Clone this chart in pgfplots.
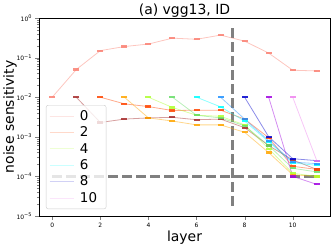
\documentclass[border=0pt]{standalone}
\usepackage{pgfplots}
\pgfplotsset{compat=1.18}
\usepackage{fontspec}
\setmainfont{DejaVu Sans}
\definecolor{c0}{HTML}{FA8072}
\definecolor{c1}{HTML}{A52A2A}
\definecolor{c2}{HTML}{FF4500}
\definecolor{c3}{HTML}{FFA500}
\definecolor{c4}{HTML}{ADFF2F}
\definecolor{c5}{HTML}{66DD66}
\definecolor{c6}{HTML}{00FFFF}
\definecolor{c7}{HTML}{1E90FF}
\definecolor{c8}{HTML}{0000CD}
\definecolor{c9}{HTML}{A000E0}
\definecolor{c10}{HTML}{EE82EE}
\begin{document}
\begin{tikzpicture}
\begin{axis}[
  at={(0,0)}, anchor=south west,
  scale only axis, width=291bp, height=198bp,
  ymode=log, xmin=-0.55, xmax=11.55, ymin=1e-5, ymax=1,
  xtick={0,2,4,6,8,10},
  ytick={1e-5,1e-4,1e-3,1e-2,1e-1,1},
  yticklabels={10\textsuperscript{−5},10\textsuperscript{−4},10\textsuperscript{−3},10\textsuperscript{−2},10\textsuperscript{−1},10\textsuperscript{0}},
  /pgf/number format/assume math mode=true,
  tick label style={font=\fontsize{6}{7}\selectfont},
  tick align=outside, tick pos=left,
  major tick length=3.5bp, minor tick length=2bp,
  axis line style={line width=0.8bp},
  title={(a) vgg13, ID},
  title style={font=\fontsize{14}{16}\selectfont, at={(0.5,1)}, anchor=base, yshift=-2bp},
  xlabel={layer}, ylabel={noise sensitivity},
  label style={font=\fontsize{14}{16}\selectfont},
  xlabel style={at={(axis description cs:0.5,0)}, anchor=base, yshift=-25bp},
  ylabel style={at={([xshift=-25bp]axis description cs:0,0.5)}, anchor=base},
  legend style={at={(0.024,0.035)}, anchor=south west, draw=gray!40, rounded corners=2bp,
    fill=white, fill opacity=0.8, text opacity=1, font=\fontsize{13.5}{15}\selectfont,
    inner sep=3bp, row sep=1bp, nodes={inner xsep=6bp}},
  legend cell align=left,
  legend image code/.code={\draw[#1, mark=none] (0bp,0bp) -- (24bp,0bp);},
  every axis plot/.append style={line width=0.8bp, opacity=0.45, mark=-, mark size=3bp,
    mark options={solid, line width=2.2bp, opacity=0.85}},
]
\addlegendimage{c0!45, line width=0.8bp}
\addlegendentry{0}
\addlegendimage{c2!45, line width=0.8bp}
\addlegendentry{2}
\addlegendimage{c4!45, line width=0.8bp}
\addlegendentry{4}
\addlegendimage{c6!45, line width=0.8bp}
\addlegendentry{6}
\addlegendimage{c8!40, line width=0.8bp}
\addlegendentry{8}
\addlegendimage{c10!45, line width=0.8bp}
\addlegendentry{10}
\addplot[gray, line width=2.5bp, dash pattern=on 10bp off 4bp, mark=none, opacity=1, forget plot] coordinates {(7.5,1.8e-5)(7.5,0.56)};
\addplot[gray, line width=2.5bp, dash pattern=on 10bp off 4bp, mark=none, opacity=1, forget plot] coordinates {(0,1e-4)(11,1e-4)};
\addplot[c0, forget plot] coordinates {(0,1e-2)(1,0.05)(2,0.15)(3,0.19)(4,0.22)(5,0.31)(6,0.29)(7,0.37)(8,0.26)(9,0.13)(10,0.048)(11,0.046)};
\addplot[c1, forget plot] coordinates {(1,1e-2)(2,2.3e-3)(3,2.8e-3)(4,3.0e-3)(5,3.1e-3)(6,2.7e-3)(7,2.8e-3)(8,1.7e-3)(9,6e-4)(10,2.6e-4)(11,1.5e-4)};
\addplot[c2, forget plot] coordinates {(2,1e-2)(3,6.8e-3)(4,5.8e-3)(5,4.6e-3)(6,4.7e-3)(7,4.7e-3)(8,2.8e-3)(9,9.5e-4)(10,1.8e-4)(11,1.5e-4)};
\addplot[c3, forget plot] coordinates {(3,1e-2)(4,3.0e-3)(5,2.5e-3)(6,2.0e-3)(7,2.0e-3)(8,1.3e-3)(9,4e-4)(10,1.1e-4)(11,1.0e-4)};
\addplot[c4, forget plot] coordinates {(4,1e-2)(5,5.5e-3)(6,3.5e-3)(7,3.3e-3)(8,2.0e-3)(9,5e-4)(10,1.2e-4)(11,1.0e-4)};
\addplot[c5, forget plot] coordinates {(5,1e-2)(6,3.5e-3)(7,3.0e-3)(8,1.9e-3)(9,6e-4)(10,1.6e-4)(11,1.3e-4)};
\addplot[c6, forget plot] coordinates {(6,1e-2)(7,5.7e-3)(8,2.5e-3)(9,7.5e-4)(10,2.2e-4)(11,1.9e-4)};
\addplot[c7, forget plot] coordinates {(7,1e-2)(8,2.8e-3)(9,8e-4)(10,2.3e-4)(11,2.1e-4)};
\addplot[c8, forget plot] coordinates {(8,1e-2)(9,1.0e-3)(10,2.8e-4)(11,2.5e-4)};
\addplot[c9, forget plot] coordinates {(9,1e-2)(10,1.0e-4)(11,6.3e-5)};
\addplot[c10, forget plot] coordinates {(10,1e-2)(11,2.5e-4)};
\end{axis}
\pgfresetboundingbox
\useasboundingbox (-39bp,-30bp) rectangle (293bp,216bp);
\end{tikzpicture}
\end{document}
